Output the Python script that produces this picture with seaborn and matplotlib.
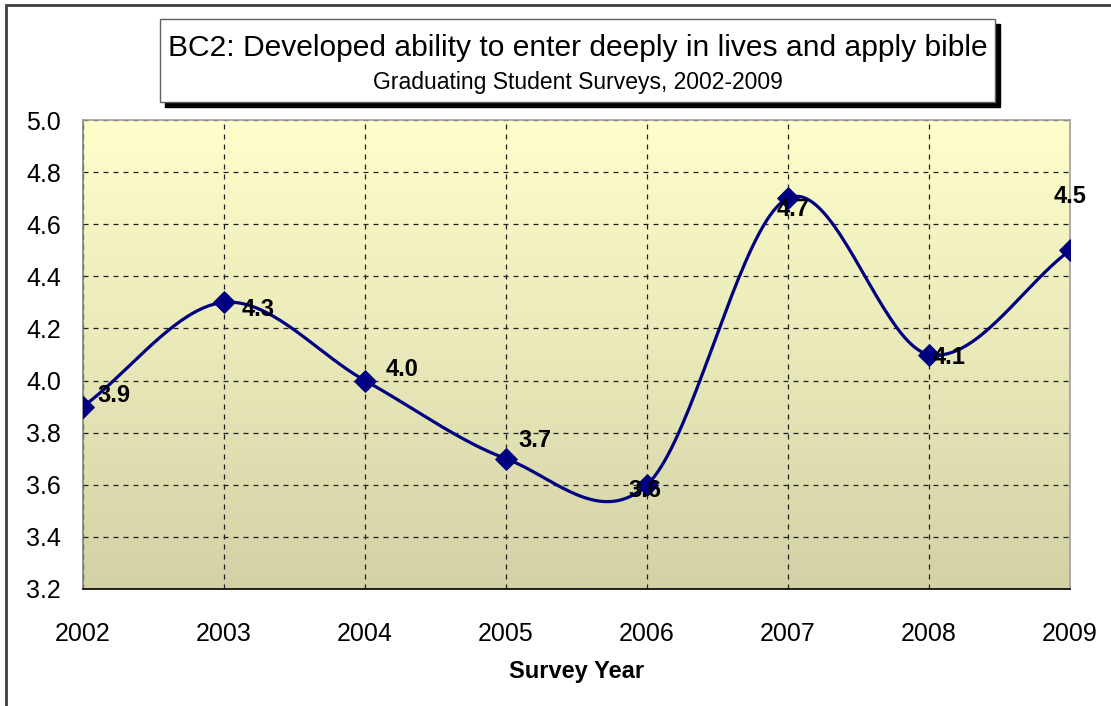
import numpy as np
import pandas as pd
import matplotlib
matplotlib.use("Agg")
import matplotlib.pyplot as plt
from matplotlib.patches import Rectangle
from matplotlib.colors import LinearSegmentedColormap
import seaborn as sns

# Survey results
years = [2002, 2003, 2004, 2005, 2006, 2007, 2008, 2009]
scores = [3.9, 4.3, 4.0, 3.7, 3.6, 4.7, 4.1, 4.5]
y_ticks = [3.2, 3.4, 3.6, 3.8, 4.0, 4.2, 4.4, 4.6, 4.8, 5.0]

title = "BC2: Developed ability to enter deeply in lives and apply bible"
subtitle = "Graduating Student Surveys, 2002-2009"
x_label = "Survey Year"

# label offsets in pixels (dx, dy) relative to each marker
label_offsets = [(31, 11), (34, -7), (37, 11), (29, 18), (-2, -6), (5, -11), (20, -3), (0, 54)]

sns.set_theme(style="white")
plt.rcParams["font.family"] = ["Liberation Sans", "DejaVu Sans"]
plt.rcParams["text.color"] = "black"
plt.rcParams["axes.labelcolor"] = "black"

W, H = 1111, 706
fig = plt.figure(figsize=(W / 100, H / 100), dpi=100)
fig.patch.set_facecolor("white")

left, right, top, bottom = 83, 1070, 120, 589
ax = fig.add_axes([left / W, 1 - bottom / H, (right - left) / W, (bottom - top) / H])


def catmull_rom(xs, ys, n=40):
    """Smooth curve through the points (Catmull-Rom / Excel-style smoothing)."""
    xs = np.asarray(xs, float)
    ys = np.asarray(ys, float)
    px = np.concatenate([[2 * xs[0] - xs[1]], xs, [2 * xs[-1] - xs[-2]]])
    py = np.concatenate([[ys[0]], ys, [ys[-1]]])
    out_x, out_y = [], []
    for i in range(1, len(px) - 2):
        t = np.linspace(0, 1, n, endpoint=False)
        p0, p1, p2, p3 = py[i - 1], py[i], py[i + 1], py[i + 2]
        m1 = (p2 - p0) / 2.0
        m2 = (p3 - p1) / 2.0
        if i == 1:
            m1 = (p2 - p1)
        if i == len(px) - 3:
            m2 = (p2 - p1)
        h00 = 2 * t**3 - 3 * t**2 + 1
        h10 = t**3 - 2 * t**2 + t
        h01 = -2 * t**3 + 3 * t**2
        h11 = t**3 - t**2
        out_y.append(h00 * p1 + h10 * m1 + h01 * p2 + h11 * m2)
        out_x.append(px[i] + t * (px[i + 1] - px[i]))
    out_x.append([xs[-1]])
    out_y.append([ys[-1]])
    return np.concatenate(out_x), np.concatenate(out_y)


# gradient background of the plot area
cmap = LinearSegmentedColormap.from_list("bg", ["#D2D2A6", "#FFFFCC"])
grad = np.linspace(0, 1, 256).reshape(-1, 1)
ax.imshow(grad, aspect="auto", cmap=cmap, origin="lower",
          extent=[years[0], years[-1], y_ticks[0], y_ticks[-1]], zorder=0)

sx, sy = catmull_rom(years, scores)
smooth = pd.DataFrame({"year": sx, "score": sy})
points = pd.DataFrame({"year": years, "score": scores})

sns.lineplot(data=smooth, x="year", y="score", ax=ax, color="#000080",
             linewidth=2.3, zorder=3, sort=False)
sns.scatterplot(data=points, x="year", y="score", ax=ax, marker="D", s=120,
                color="#000080", edgecolor="#000080", zorder=4)

for (xv, yv), (dx, dy) in zip(zip(years, scores), label_offsets):
    ax.annotate(f"{yv:.1f}", (xv, yv), xytext=(dx * 0.72, dy * 0.72),
                textcoords="offset points", ha="center", va="center",
                fontsize=17, fontweight="bold", color="black", zorder=5)

ax.set_xlim(years[0], years[-1])
ax.set_ylim(y_ticks[0], y_ticks[-1])
ax.set_xticks(years)
ax.set_xticklabels([str(y) for y in years])
ax.set_yticks(y_ticks)
ax.set_yticklabels([f"{v:.1f}" for v in y_ticks])
ax.tick_params(axis="both", direction="out", length=8, width=1, color="black",
               labelsize=18, labelcolor="black")
ax.tick_params(axis="y", pad=8)
ax.tick_params(axis="x", pad=16)
ax.set_xlabel(x_label, fontsize=17, fontweight="bold", labelpad=10, color="black")
ax.set_ylabel("")

ax.grid(True, color="#202020", linestyle=(0, (4, 4)), linewidth=0.9, zorder=1)
for gl in ax.get_xgridlines() + ax.get_ygridlines():
    gl.set_zorder(1)

ax.spines["left"].set_color("#808080")
ax.spines["bottom"].set_color("black")
ax.spines["top"].set_color("#A0A0A0")
ax.spines["right"].set_color("#A0A0A0")
for s in ax.spines.values():
    s.set_linewidth(1.2)
    s.set_zorder(2)

# chart area border
fig.patches.append(Rectangle((6 / W, -0.05), 1.1, 1 - 5 / H + 0.05,
                             transform=fig.transFigure, fill=False,
                             edgecolor="#404040", linewidth=2, zorder=0))

# title box with shadow
bx0, bx1, by0, by1 = 160, 995, 19, 102
sh = 5
fig.patches.append(Rectangle(((bx0 + sh) / W, 1 - (by1 + sh) / H), (bx1 - bx0) / W,
                             (by1 - by0) / H, transform=fig.transFigure,
                             facecolor="black", edgecolor="black", zorder=5))
fig.patches.append(Rectangle((bx0 / W, 1 - by1 / H), (bx1 - bx0) / W, (by1 - by0) / H,
                             transform=fig.transFigure, facecolor="white",
                             edgecolor="#606060", linewidth=1, zorder=6))
fig.text(578 / W, 1 - 48 / H, title, ha="center", va="center", fontsize=21.6,
         color="black", zorder=7)
fig.text(578 / W, 1 - 82 / H, subtitle, ha="center", va="center", fontsize=16.5,
         color="black", zorder=7)

fig.savefig("out.png", dpi=100)
